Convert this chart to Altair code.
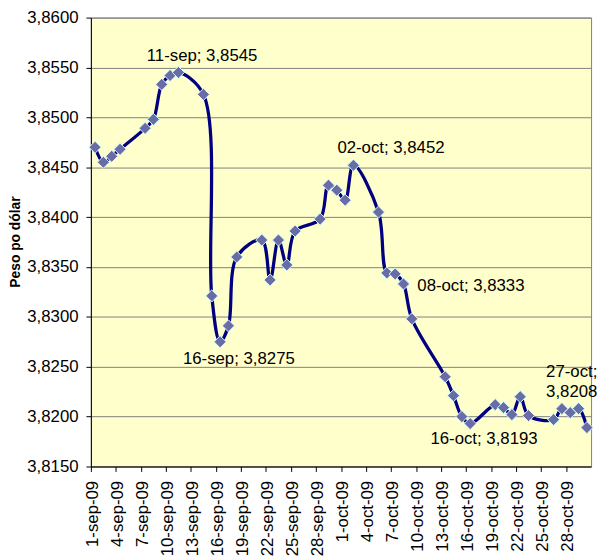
import altair as alt
import pandas as pd

# ---- data ----
dates = [
    "2009-09-01", "2009-09-02", "2009-09-03", "2009-09-04", "2009-09-07",
    "2009-09-08", "2009-09-09", "2009-09-10", "2009-09-11", "2009-09-14",
    "2009-09-15", "2009-09-16", "2009-09-17", "2009-09-18", "2009-09-21",
    "2009-09-22", "2009-09-23", "2009-09-24", "2009-09-25", "2009-09-28",
    "2009-09-29", "2009-09-30",
    "2009-10-01", "2009-10-02", "2009-10-05", "2009-10-06", "2009-10-07",
    "2009-10-08", "2009-10-09", "2009-10-13", "2009-10-14", "2009-10-15",
    "2009-10-16", "2009-10-19", "2009-10-20", "2009-10-21", "2009-10-22",
    "2009-10-23", "2009-10-26", "2009-10-27", "2009-10-28", "2009-10-29",
    "2009-10-30",
]
values = [
    3.8470, 3.8455, 3.8461, 3.8468, 3.8489,
    3.8498, 3.8533, 3.8542, 3.8545, 3.8523,
    3.8321, 3.8275, 3.8291, 3.8360, 3.8377,
    3.8337, 3.8377, 3.8352, 3.8386, 3.8398,
    3.8432, 3.8427,
    3.8417, 3.8452, 3.8405, 3.8344, 3.8343,
    3.8333, 3.8298, 3.8240, 3.8221, 3.8200,
    3.8193, 3.8212, 3.8209, 3.8202, 3.8220,
    3.8201, 3.8197, 3.8208, 3.8204, 3.8208,
    3.8189,
]
tick_labels = [
    "1-sep-09", "4-sep-09", "7-sep-09", "10-sep-09", "13-sep-09",
    "16-sep-09", "19-sep-09", "22-sep-09", "25-sep-09", "28-sep-09",
    "1-oct-09", "4-oct-09", "7-oct-09", "10-oct-09", "13-oct-09",
    "16-oct-09", "19-oct-09", "22-oct-09", "25-oct-09", "28-oct-09",
]
tick_dates = [
    "2009-09-01", "2009-09-04", "2009-09-07", "2009-09-10", "2009-09-13",
    "2009-09-16", "2009-09-19", "2009-09-22", "2009-09-25", "2009-09-28",
    "2009-10-01", "2009-10-04", "2009-10-07", "2009-10-10", "2009-10-13",
    "2009-10-16", "2009-10-19", "2009-10-22", "2009-10-25", "2009-10-28",
]
y_ticks = [3.815, 3.820, 3.825, 3.830, 3.835, 3.840, 3.845, 3.850, 3.855, 3.860]

ann_dates = ["2009-09-11", "2009-09-16", "2009-10-02", "2009-10-08", "2009-10-16", "2009-10-27"]
ann_texts = ["11-sep; 3,8545", "16-sep; 3,8275", "02-oct; 3,8452",
             "08-oct; 3,8333", "16-oct; 3,8193", "27-oct;\n3,8208"]

# ---- tables ----
start = pd.Timestamp("2009-09-01")
end = pd.Timestamp("2009-10-31")
n_days = (end - start).days

df = pd.DataFrame({"fecha": dates, "valor": values})
df["dia"] = (pd.to_datetime(df["fecha"]) - start).dt.days + 0.5

tick_vals = [int((pd.Timestamp(d) - start).days) for d in tick_dates]
label_map = "{" + ",".join(f"'{v}':'{l}'" for v, l in zip(tick_vals, tick_labels)) + "}"

ann = pd.DataFrame({"fecha": ann_dates, "texto": ann_texts}).merge(df, on="fecha")

FONT = "Arial, Liberation Sans"
FS = 17

x_enc = alt.X(
    "dia:Q",
    scale=alt.Scale(domain=[0, n_days], nice=False, zero=False),
    axis=alt.Axis(
        values=tick_vals,
        labelExpr=label_map + "[toString(round(datum.value))]",
        labelAngle=270,
        labelAlign="right",
        labelBaseline="middle",
        labelOffset=2,
        labelPadding=9,
        labelFontSize=FS,
        labelFont=FONT,
        labelColor="#000000",
        labelOverlap=False,
        labelFlush=False,
        labelBound=False,
        grid=False,
        tickSize=5,
        tickColor="#000000",
        domainColor="#000000",
        title=None,
    ),
)
y_enc = alt.Y(
    "valor:Q",
    scale=alt.Scale(domain=[3.815, 3.860], nice=False, zero=False),
    axis=alt.Axis(
        values=y_ticks,
        labelExpr="replace(format(datum.value, '.4f'), '.', ',')",
        labelFontSize=FS,
        labelFont=FONT,
        labelColor="#000000",
        labelPadding=8,
        labelOverlap=False,
        labelFlush=False,
        grid=True,
        gridColor="#7f7f7f",
        gridWidth=1,
        tickSize=5,
        tickColor="#000000",
        domainColor="#000000",
        title="Peso po dólar",
        titleFont=FONT,
        titleFontSize=14,
        titleFontWeight="bold",
        titleColor="#000000",
        titleX=-76,
        titleY=227,
        titleAngle=270,
        titleAlign="center",
        titleBaseline="middle",
    ),
)

base = alt.Chart(df)
line = base.mark_line(color="#000080", strokeWidth=3.3, interpolate="catmull-rom").encode(
    x=x_enc, y=y_enc
)
points = base.mark_point(
    shape="diamond", filled=True, size=150, fill="#6B6BA6", stroke="#CCFFFF",
    strokeWidth=1, opacity=1, fillOpacity=1, strokeOpacity=1,
).encode(x=x_enc, y=y_enc)

offsets = [
    (24, -17, "center"),
    (19, 17, "center"),
    (38, -17, "center"),
    (14, 2, "left"),
    (14, 16, "center"),
    (-16, -37, "left"),
]
labels = []
for d, (dx, dy, al) in zip(ann_dates, offsets):
    labels.append(
        alt.Chart(ann)
        .transform_filter(alt.datum.fecha == d)
        .mark_text(dx=dx, dy=dy, align=al, baseline="middle", fontSize=FS,
                   font=FONT, color="#000000", lineBreak="\n", lineHeight=20)
        .encode(x=x_enc, y=y_enc, text="texto:N")
    )

chart = (
    alt.layer(line, points, *labels)
    .properties(
        width=507,
        height=455,
        autosize=alt.AutoSizeParams(type="none"),
        padding={"left": 84, "top": 6, "right": 6, "bottom": 88},
        background="#ffffff",
    )
    .configure_view(stroke="#808080", fill="#FFFFCC", strokeWidth=1)
    .configure_axis(labelOverlap=False)
)

chart.save("out.html", embed_options={"renderer": "svg", "actions": False})
